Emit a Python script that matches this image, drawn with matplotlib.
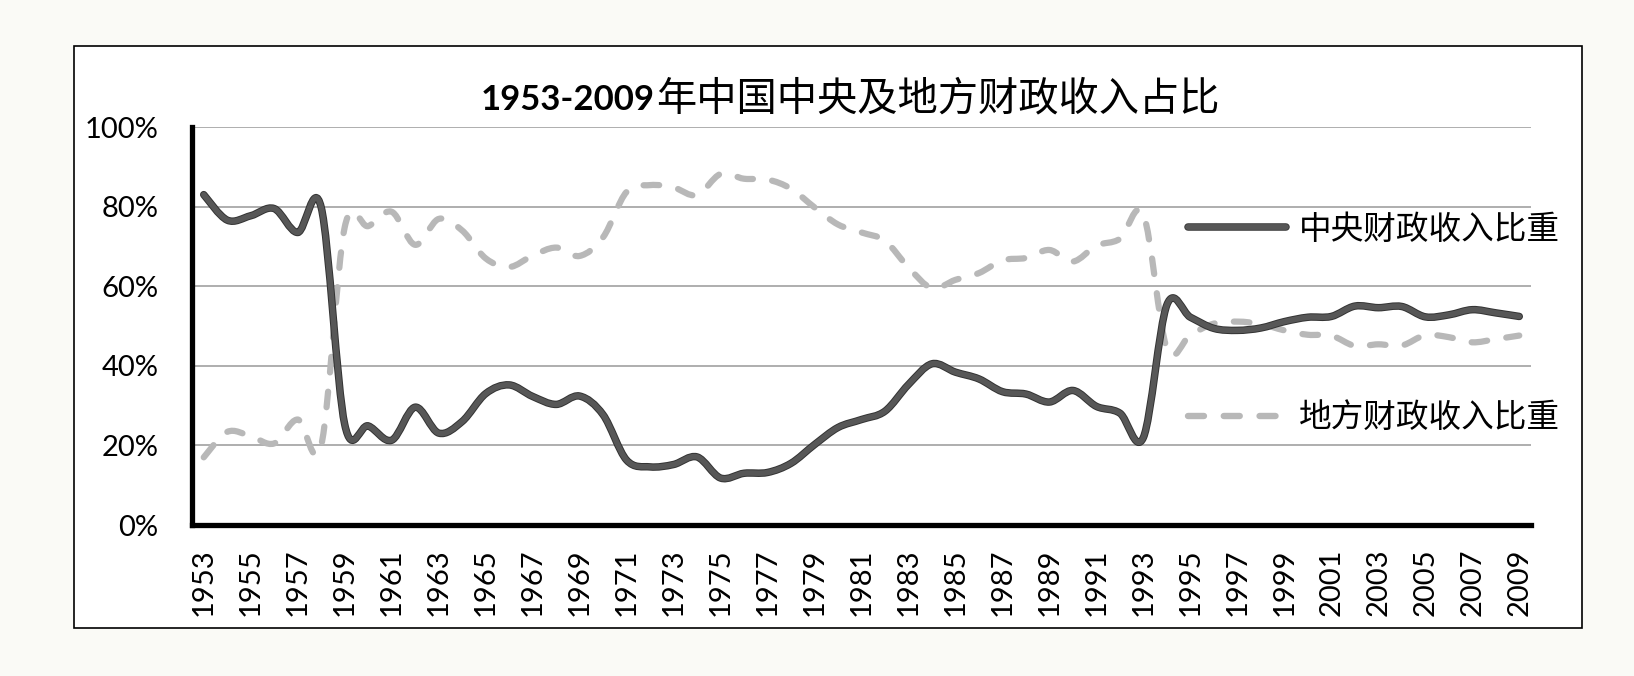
import matplotlib
matplotlib.use('Agg')
import matplotlib.pyplot as plt
import matplotlib.patheffects as pe
from matplotlib.path import Path
from matplotlib.patches import PathPatch, Rectangle
from matplotlib.lines import Line2D

# data (shares in %)
years = list(range(1953, 2010))
central = [83.0, 76.6, 77.7, 79.5, 73.5, 79.8, 25.3, 24.9, 21.3, 29.6,
           23.1, 26.0, 33.0, 35.2, 32.3, 30.3, 32.4, 27.7, 16.3, 14.6,
           15.2, 17.1, 11.8, 13.0, 13.2, 15.5, 20.2, 24.5, 26.5, 28.6,
           35.3, 40.5, 38.4, 36.7, 33.5, 32.9, 30.9, 33.8, 29.8, 28.1,
           22.0, 55.3, 52.2, 49.4, 48.9, 49.5, 51.1, 52.2, 52.4, 55.0,
           54.6, 54.9, 52.3, 52.8, 54.1, 53.3, 52.4]
local = [17.0, 23.4, 22.3, 20.5, 26.5, 20.0, 74.8, 75.1, 78.7, 70.4,
         76.9, 74.0, 67.0, 64.8, 67.7, 69.7, 67.6, 72.3, 83.7, 85.4,
         84.8, 82.9, 88.2, 87.0, 86.8, 84.5, 79.8, 75.5, 73.5, 71.4,
         64.7, 59.5, 61.6, 63.3, 66.5, 67.1, 69.1, 66.2, 70.2, 71.9,
         78.0, 44.3, 47.8, 50.6, 51.1, 50.5, 48.9, 47.8, 47.6, 45.0,
         45.4, 45.1, 47.7, 47.2, 45.9, 46.7, 47.6]
labels = ['中央财政收入比重', '地方财政收入比重']
title_num = '1953-2009'
title_cn = '年中国中央及地方财政收入占比'

CJK = ['Noto Sans CJK SC', 'DejaVu Sans']
NUM = ['Lato', 'DejaVu Sans']


def smooth_path(xs, ys):
    # excel-like smoothed line as cubic bezier segments
    n = len(xs)
    verts = [(xs[0], ys[0])]
    codes = [Path.MOVETO]
    for i in range(n - 1):
        a = i - 1 if i > 0 else i
        d = i + 2 if i + 2 < n else i + 1
        c1 = (xs[i] + (xs[i + 1] - xs[a]) / 6, ys[i] + (ys[i + 1] - ys[a]) / 6)
        c2 = (xs[i + 1] - (xs[d] - xs[i]) / 6, ys[i + 1] - (ys[d] - ys[i]) / 6)
        verts += [c1, c2, (xs[i + 1], ys[i + 1])]
        codes += [Path.CURVE4] * 3
    return Path(verts, codes)


fig = plt.figure(figsize=(16.34, 6.76), dpi=100, facecolor='#fafaf6')
fig.patches.append(Rectangle((74 / 1634, 1 - 628 / 676), (1582 - 74) / 1634, (628 - 46) / 676,
                             transform=fig.transFigure, facecolor='white',
                             edgecolor='black', linewidth=1.2, zorder=-1))

ax = fig.add_axes([192 / 1634, 1 - 525 / 676, (1531 - 192) / 1634, (525 - 127) / 676])
ax.patch.set_alpha(0)

x = list(range(len(years)))
central_color = '#575757'
local_color = '#b8b8b8'

p1 = PathPatch(smooth_path(x, central), fill=False, edgecolor=central_color,
               linewidth=4.0, capstyle='round', joinstyle='round', zorder=4)
p1.set_path_effects([pe.Stroke(linewidth=5.4, foreground='#333333'), pe.Normal()])
ax.add_patch(p1)

p2 = PathPatch(smooth_path(x, local), fill=False, edgecolor=local_color,
               linewidth=4.5, linestyle=(0, (2.5, 3.1)), capstyle='round',
               joinstyle='round', zorder=3)
ax.add_patch(p2)

ax.set_xlim(-0.5, len(years) - 0.5)
ax.set_ylim(0, 100)
ax.set_yticks([0, 20, 40, 60, 80, 100])
ax.set_yticklabels([f'{v}%' for v in [0, 20, 40, 60, 80, 100]], fontsize=21, family=NUM)
ax.set_xticks(x[::2])
ax.set_xticklabels([str(y) for y in years[::2]], rotation=90, fontsize=21, family=NUM)
ax.tick_params(axis='y', length=0, pad=24)
ax.tick_params(axis='x', length=0, pad=17)
ax.yaxis.grid(True, color='#a8a8a8', linewidth=1.3)
ax.set_axisbelow(True)
for s in ['top', 'right']:
    ax.spines[s].set_visible(False)
for s in ['left', 'bottom']:
    ax.spines[s].set_linewidth(3.8)
    ax.spines[s].set_color('black')
    ax.spines[s].set_zorder(5)
ax.spines['left'].set_capstyle('projecting')

# title: bold numbers + chinese
fig.text(655 / 1634, 1 - 110 / 676, title_num, ha='right', va='baseline',
         fontsize=25, fontweight='bold', family=NUM)
fig.text(656 / 1634, 1 - 110 / 676, title_cn, ha='left', va='baseline',
         fontsize=29, family=CJK)

handles = [
    Line2D([], [], color=central_color, linewidth=4.2, solid_capstyle='round',
           path_effects=[pe.Stroke(linewidth=5.4, foreground='#333333'), pe.Normal()]),
    Line2D([], [], color=local_color, linewidth=4.6, linestyle=(0, (2.5, 3.1)),
           dash_capstyle='round'),
]
leg = ax.legend(handles, labels, loc='center left',
                bbox_to_anchor=(1188 / 1634, 1 - 324 / 676), bbox_transform=fig.transFigure,
                frameon=False, borderpad=0, borderaxespad=0, handlelength=3.0,
                handletextpad=0.4, labelspacing=4.8, prop={'family': CJK, 'size': 23.5})

fig.savefig('out.png', dpi=100, facecolor=fig.get_facecolor())
